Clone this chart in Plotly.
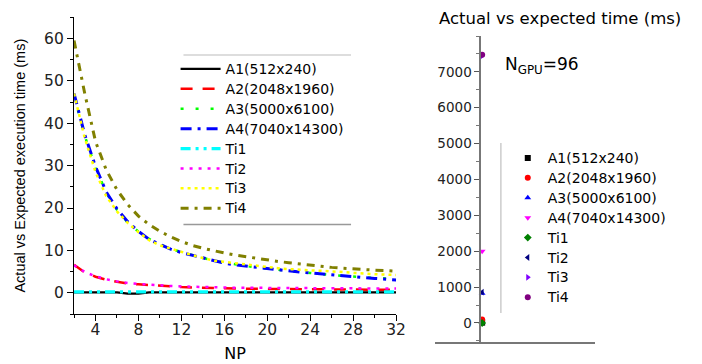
import plotly.graph_objects as go

W, H = 702, 364
def fx(px): return px / W
def fy(py): return 1 - py / H

# ---------------- data ----------------
NP = list(range(2, 33))
names = ["A1(512x240)", "A2(2048x1960)", "A3(5000x6100)", "A4(7040x14300)", "Ti1", "Ti2", "Ti3", "Ti4"]

A1 = [0.1, 0.1, 0.1, 0.1, 0.1, -0.2, -0.2, 0.1, 0.1, 0.1, 0.1, 0.1, 0.1, 0.1, 0.1, 0.1,
      0.1, 0.1, 0.1, 0.1, 0.1, 0.1, 0.1, 0.1, 0.1, 0.1, 0.1, 0.1, 0.1, 0.1, 0.1]
A2 = [6.6, 4.8, 3.8, 3.1, 2.6, 2.2, 2.0, 1.8, 1.6, 1.45, 1.35, 1.25, 1.15, 1.1, 1.05, 1.0,
      0.95, 0.92, 0.9, 0.88, 0.85, 0.83, 0.8, 0.78, 0.77, 0.75, 0.74, 0.73, 0.72, 0.71, 0.7]
A3 = [46.5, 37.0, 29.5, 23.6, 19.6, 16.6, 14.4, 12.7, 11.4, 10.4, 9.6, 8.9, 8.2, 7.6, 7.1, 6.7,
      6.3, 6.0, 5.7, 5.4, 5.1, 4.9, 4.7, 4.4, 4.2, 4.0, 3.9, 3.7, 3.5, 3.4, 3.3]
A4 = [47.0, 37.3, 29.8, 23.8, 19.8, 16.8, 14.5, 12.6, 11.4, 10.3, 9.5, 8.9, 8.3, 7.6, 7.0, 6.6,
      6.3, 6.0, 5.7, 5.4, 5.15, 4.9, 4.7, 4.45, 4.2, 4.0, 3.8, 3.6, 3.4, 3.2, 3.0]
Ti1 = [0.2] * 31
Ti2 = [6.5, 4.9, 3.9, 3.2, 2.7, 2.3, 2.1, 1.9, 1.7, 1.6, 1.5, 1.4, 1.35, 1.3, 1.25, 1.2,
       1.18, 1.15, 1.13, 1.1, 1.1, 1.08, 1.06, 1.05, 1.04, 1.03, 1.02, 1.01, 1.0, 1.0, 1.0]
Ti3 = [47.0, 36.5, 28.5, 22.8, 19.2, 16.5, 14.3, 12.4, 11.2, 10.4, 9.6, 8.9, 8.2, 7.6, 7.3, 7.0,
       6.7, 6.3, 6.0, 5.8, 5.6, 5.4, 5.3, 5.2, 5.1, 4.9, 4.7, 4.5, 4.4, 4.3, 4.2]
Ti4 = [59.5, 47.0, 35.7, 29.0, 24.3, 20.8, 18.1, 16.1, 14.5, 13.2, 12.1, 11.2, 10.5, 9.9, 9.4, 8.9,
       8.5, 8.1, 7.7, 7.4, 7.1, 6.8, 6.5, 6.2, 6.0, 5.8, 5.6, 5.45, 5.35, 5.25, 5.1]

NGPU = [96]
right_vals = [10, 100, 830, 2000, 0, 860, 7450, 7480]

x_ticks = [4, 8, 12, 16, 20, 24, 28, 32]
y_ticks_left = [0, 10, 20, 30, 40, 50, 60]
y_ticks_right = [0, 1000, 2000, 3000, 4000, 5000, 6000, 7000]

# ---------------- styles ----------------
FONT = "DejaVu Sans, Liberation Sans, Arial, sans-serif"
FONT2 = "Liberation Sans, Arial, sans-serif"
line_styles = [
    dict(color="#000000", width=2.2, dash="solid"),
    dict(color="#FF0000", width=2.5, dash="12px,10px"),
    dict(color="#00FF00", width=2.5, dash="3px,12px"),
    dict(color="#0000FF", width=3.0, dash="11px,6px,3px,6px"),
    dict(color="#00FFFF", width=3.2, dash="10px,5px,3px,5px,3px,5px"),
    dict(color="#FF00FF", width=2.5, dash="3px,6px"),
    dict(color="#FFFF00", width=2.5, dash="3px,4px"),
    dict(color="#808000", width=3.0, dash="8px,6px,3px,6px"),
]
marker_styles = [
    dict(color="#000000", symbol="square"),
    dict(color="#FF0000", symbol="circle"),
    dict(color="#0000FF", symbol="triangle-up"),
    dict(color="#FF00FF", symbol="triangle-down"),
    dict(color="#008000", symbol="diamond"),
    dict(color="#000080", symbol="triangle-left"),
    dict(color="#8000FF", symbol="triangle-right"),
    dict(color="#800080", symbol="circle"),
]

series = [A1, A2, A3, A4, Ti1, Ti2, Ti3, Ti4]

def big(label):
    return '<span style="font-size:14px">' + label + '</span>'

fig = go.Figure()
for nm, ys, ls in zip(names, series, line_styles):
    fig.add_trace(go.Scatter(x=NP, y=ys, mode="lines", name=big(nm), line=ls,
                             xaxis="x", yaxis="y", legend="legend"))
for nm, v, ms in zip(names, right_vals, marker_styles):
    fig.add_trace(go.Scatter(x=NGPU, y=[v], mode="markers", name=big(nm),
                             marker=dict(size=6, color=ms["color"], symbol=ms["symbol"]),
                             xaxis="x2", yaxis="y2", legend="legend2", cliponaxis=False))

axis_common = dict(showline=True, linecolor="black", linewidth=1.3, showgrid=False, zeroline=False,
                   ticks="outside", ticklen=6, tickwidth=1.3, tickcolor="black",
                   tickfont=dict(family=FONT, size=15.5, color="#222"))

fig.update_layout(
    width=W, height=H, margin=dict(l=0, r=0, t=0, b=0),
    paper_bgcolor="white", plot_bgcolor="white",
    font=dict(family=FONT, color="black"),
    xaxis=dict(domain=[fx(67), fx(393.7)], range=[2, 32], tickvals=x_ticks, anchor="y",
               minor=dict(dtick=2, tick0=0, ticks="outside", ticklen=3, tickcolor="black", tickwidth=1.2),
               title=dict(text="NP", font=dict(family=FONT, size=16), standoff=10),
               ticklabelstandoff=-5,
               **axis_common),
    yaxis=dict(domain=[fy(306), fy(9.3)], range=[-5, 65], tickvals=y_ticks_left, anchor="x",
               minor=dict(dtick=5, tick0=0, ticks="outside", ticklen=3, tickcolor="black", tickwidth=1.2),
               title=dict(text="Actual vs Expected execution time (ms)", font=dict(family=FONT2, size=14.5), standoff=14),
               **axis_common),
    xaxis2=dict(domain=[fx(433), fx(595)], range=[94.8, 98.85], anchor="y2",
                showline=True, linecolor="#777", linewidth=1.5, showgrid=False, zeroline=False,
                showticklabels=False, ticks=""),
    yaxis2=dict(domain=[fy(334), fy(28)], range=[-530, 8000], anchor="free", position=fx(479),
                tickvals=y_ticks_right, showline=True, linecolor="#777", linewidth=1.5,
                showgrid=False, zeroline=False, ticks="outside", ticklen=5, tickwidth=1.2, tickcolor="#555",
                minor=dict(dtick=500, tick0=0, ticks="outside", ticklen=3, tickcolor="#777", tickwidth=1),
                tickfont=dict(family=FONT, size=13.5, color="#222")),
    legend=dict(x=fx(170), y=fy(46), xanchor="left", yanchor="top", bgcolor="rgba(0,0,0,0)",
                font=dict(family=FONT, size=13, color="black"), tracegroupgap=0,
                itemwidth=40, borderwidth=0),
    legend2=dict(x=fx(507), y=fy(135), xanchor="left", yanchor="top", bgcolor="rgba(0,0,0,0)",
                 font=dict(family=FONT, size=13, color="black"), tracegroupgap=0,
                 borderwidth=0),
    showlegend=True,
)

# legend frame lines (left) and divider (right)
fig.add_shape(type="line", xref="paper", yref="paper", x0=fx(178), x1=fx(348), y0=fy(47), y1=fy(47),
              line=dict(color="#BBBBBB", width=1.2))
fig.add_shape(type="line", xref="paper", yref="paper", x0=fx(178), x1=fx(348), y0=fy(216.5), y1=fy(216.5),
              line=dict(color="#999999", width=1.5))
fig.add_shape(type="line", xref="paper", yref="paper", x0=fx(500), x1=fx(500), y0=fy(135), y1=fy(305),
              line=dict(color="#CCCCCC", width=1.5))

fig.add_annotation(text="Actual vs expected time (ms)", xref="paper", yref="paper",
                   x=fx(560), y=fy(10), xanchor="center", yanchor="middle", showarrow=False,
                   font=dict(family=FONT, size=16.5, color="black"))
fig.add_annotation(text="N<sub>GPU</sub>=96", xref="paper", yref="paper",
                   x=fx(502), y=fy(58), xanchor="left", yanchor="middle", showarrow=False,
                   font=dict(family=FONT, size=17, color="black"))

fig.write_html("out.html")
